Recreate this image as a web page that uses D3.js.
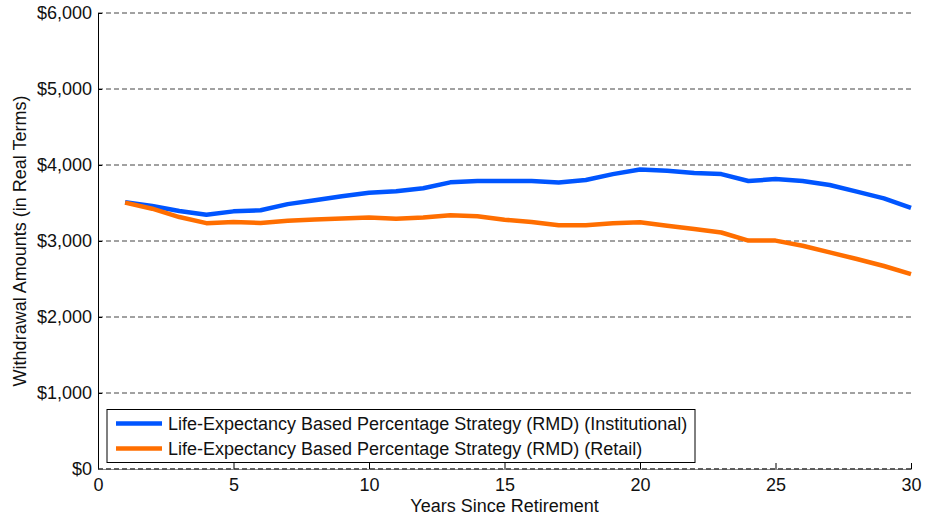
<!DOCTYPE html>
<html>
<head>
<meta charset="utf-8">
<script src="https://cdn.jsdelivr.net/npm/d3@7"></script>
<style>
  html, body { margin: 0; padding: 0; background: #fff; }
  svg text { font-family: "Liberation Sans", Arial, sans-serif; fill: #111; }
</style>
</head>
<body>
<svg id="chart" width="925" height="521"></svg>
<script>
// Years since retirement
const years = d3.range(1, 31);

// Withdrawal amounts (real terms) per strategy
const institutional = [3510, 3460, 3395, 3345, 3390, 3405, 3485, 3535, 3590, 3635,
                       3655, 3695, 3772, 3789, 3789, 3789, 3770, 3803, 3880, 3940,
                       3925, 3895, 3880, 3789, 3815, 3790, 3737, 3650, 3560, 3435];
const retail        = [3505, 3425, 3315, 3235, 3250, 3238, 3265, 3282, 3296, 3310,
                       3294, 3310, 3340, 3325, 3281, 3250, 3206, 3206, 3233, 3248,
                       3202, 3158, 3112, 3005, 3005, 2938, 2851, 2763, 2671, 2563];

const seriesNames = [
  "Life-Expectancy Based Percentage Strategy (RMD) (Institutional)",
  "Life-Expectancy Based Percentage Strategy (RMD) (Retail)"
];
const seriesColors = ["#0055ff", "#ff6e00"];

const xTicks = [0, 5, 10, 15, 20, 25, 30];
const yTicks = [0, 1000, 2000, 3000, 4000, 5000, 6000];

const margin = { left: 98, right: 14, top: 13, bottom: 52 };
const W = 925, H = 521;
const FS = "18px";
const svg = d3.select("#chart");

const x = d3.scaleLinear().domain([0, 30]).range([margin.left, W - margin.right]);
const y = d3.scaleLinear().domain([0, 6000]).range([H - margin.bottom, margin.top]);

const fmt = d => "$" + d3.format(",")(d);

// Horizontal dashed grid
svg.append("g")
  .selectAll("line")
  .data(yTicks)
  .join("line")
  .attr("x1", x(0)).attr("x2", x(30))
  .attr("y1", d => y(d)).attr("y2", d => y(d))
  .attr("stroke", "#444")
  .attr("stroke-width", 1)
  .attr("stroke-dasharray", "5,3");

// Y axis
const yAxis = svg.append("g")
  .attr("transform", `translate(${x(0)},0)`)
  .call(d3.axisLeft(y).tickValues(yTicks).tickFormat(fmt).tickSize(-4).tickPadding(6));
yAxis.select(".domain").attr("stroke", "#000");
yAxis.selectAll(".tick line").attr("stroke", "#000");
yAxis.selectAll(".tick text").style("font-size", FS).attr("fill", "#111");

// X axis
const xAxis = svg.append("g")
  .attr("transform", `translate(0,${y(0)})`)
  .call(d3.axisBottom(x).tickValues(xTicks).tickSize(-6).tickPadding(9));
xAxis.select(".domain").attr("stroke", "#888").attr("stroke-width", 1);
xAxis.selectAll(".tick line").attr("stroke", "#000");
xAxis.selectAll(".tick text").style("font-size", FS).attr("fill", "#111");
// dashed overlay on the baseline
svg.append("line")
  .attr("x1", x(0)).attr("x2", x(30))
  .attr("y1", y(0)).attr("y2", y(0))
  .attr("stroke", "#222")
  .attr("stroke-dasharray", "5,3");

// Axis titles
svg.append("text")
  .attr("x", (x(0) + x(30)) / 2)
  .attr("y", 512)
  .attr("text-anchor", "middle")
  .style("font-size", FS)
  .text("Years Since Retirement");

svg.append("text")
  .attr("transform", `translate(26,${(y(0) + y(6000)) / 2}) rotate(-90)`)
  .attr("text-anchor", "middle")
  .style("font-size", FS)
  .text("Withdrawal Amounts (in Real Terms)");

// Lines
const line = d3.line().x((d, i) => x(years[i])).y(d => y(d));
[institutional, retail].forEach((vals, k) => {
  svg.append("path")
    .datum(vals)
    .attr("fill", "none")
    .attr("stroke", seriesColors[k])
    .attr("stroke-width", 4.5)
    .attr("stroke-linejoin", "round")
    .attr("d", line);
});

// Legend
const lg = svg.append("g");
lg.append("rect")
  .attr("x", 107).attr("y", 409.5)
  .attr("width", 588).attr("height", 53)
  .attr("fill", "#fff").attr("stroke", "#000").attr("stroke-width", 1);
seriesNames.forEach((name, k) => {
  const ly = 423.5 + k * 25;
  lg.append("line")
    .attr("x1", 116).attr("x2", 162)
    .attr("y1", ly).attr("y2", ly)
    .attr("stroke", seriesColors[k]).attr("stroke-width", 4.5);
  lg.append("text")
    .attr("x", 168).attr("y", ly + 6.5)
    .style("font-size", FS)
    .text(name);
});
</script>
</body>
</html>
